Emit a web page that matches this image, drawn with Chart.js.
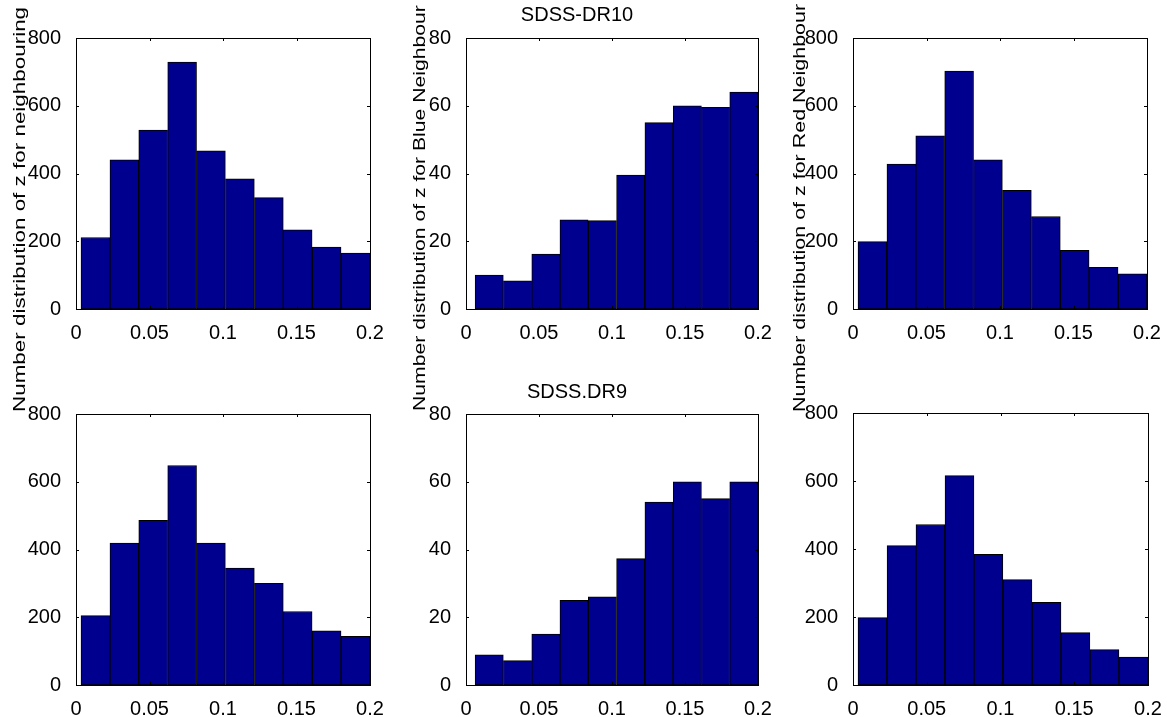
<!DOCTYPE html>
<html>
<head>
<meta charset="utf-8">
<title>Number distribution of z</title>
<script src="https://cdn.jsdelivr.net/npm/chart.js@4/dist/chart.umd.min.js"></script>
<style>
  html, body { margin: 0; padding: 0; background: #fff; }
  body { width: 1167px; height: 717px; position: relative; overflow: hidden; font-family: "Liberation Sans", Arial, sans-serif; }
  .panel { position: absolute; }
  .ylab { position: absolute; white-space: nowrap; font-size: 17px; line-height: 20px; color: #000; transform-origin: 0 0; }
</style>
</head>
<body>
<script>
// bin centres in z (matlab hist, 10 bins from min z to 0.2)
const zAll = [0.0132, 0.0329, 0.0525, 0.0722, 0.0918, 0.1115, 0.1312, 0.1508, 0.1705, 0.1902];
const zBlue = [0.0159, 0.0353, 0.0547, 0.0740, 0.0934, 0.1128, 0.1322, 0.1516, 0.1709, 0.1903];

// counts
const dr10All = [211, 440, 528, 729, 467, 384, 329, 234, 183, 165];
const dr10Blue = [10, 8.3, 16.2, 26.3, 26.1, 39.5, 55, 60, 59.5, 64];
const dr10Red = [199, 428, 511, 702, 440, 350, 273, 173, 123, 104];
const dr9All = [205, 419, 486, 648, 419, 345, 300, 217, 160, 144];
const dr9Blue = [8.9, 7.2, 15, 25, 26, 37.3, 54, 60, 55, 60];
const dr9Red = [198, 410, 472, 616, 384, 310, 243, 154, 104, 82];

// tick labels
const zTicks = [0, 0.05, 0.1, 0.15, 0.2];
const countTicks = [0, 200, 400, 600, 800];
const blueTicks = [0, 20, 40, 60, 80];

const FONT = "'Liberation Sans', Arial, sans-serif";
const BAR_COLOR = "#00008F";

// plot boxes [left, top, right, bottom] in page pixels
const panels = [
  { z: zAll, counts: dr10All, yTicks: countTicks, box: [76, 38, 370, 309] },
  { z: zBlue, counts: dr10Blue, yTicks: blueTicks, box: [466, 38, 758, 309], title: "SDSS-DR10", titleGap: 11 },
  { z: zAll, counts: dr10Red, yTicks: countTicks, box: [853, 38, 1147, 309] },
  { z: zAll, counts: dr9All, yTicks: countTicks, box: [76, 414, 370, 685] },
  { z: zBlue, counts: dr9Blue, yTicks: blueTicks, box: [466, 414, 758, 685], title: "SDSS.DR9", titleGap: 10 },
  { z: zAll, counts: dr9Red, yTicks: countTicks, box: [853, 413, 1148, 685] },
];

const yTitles = [
  { text: "Number distribution of z for neighbouring", left: 10, bottom: 412, length: 405 },
  { text: "Number distribution of z for Blue Neighbour", left: 410, bottom: 411, length: 406 },
  { text: "Number distribution of z for Red Neighbour", left: 790, bottom: 412, length: 408 },
];

const Y_AXIS_W = 70;
const X_AXIS_H = 45;
const PAD_RIGHT = 22;
const PAD_TOP = 24; // must cover half the top tick label plus its padding

// matlab style frame with small inward ticks on all four sides
const boxPlugin = {
  id: "matlabBox",
  afterDatasetsDraw(chart) {
    const { ctx, chartArea: a, scales } = chart;
    const len = 3;
    ctx.save();
    ctx.strokeStyle = "#000";
    ctx.lineWidth = 1;
    ctx.beginPath();
    scales.x.ticks.forEach((t) => {
      if (t.value <= scales.x.min || t.value >= scales.x.max) return;
      const px = Math.round(scales.x.getPixelForValue(t.value)) + 0.5;
      ctx.moveTo(px, a.bottom);
      ctx.lineTo(px, a.bottom - len);
      ctx.moveTo(px, a.top);
      ctx.lineTo(px, a.top + len);
    });
    scales.y.ticks.forEach((t) => {
      if (t.value <= scales.y.min || t.value >= scales.y.max) return;
      const py = Math.round(scales.y.getPixelForValue(t.value)) + 0.5;
      ctx.moveTo(a.left, py);
      ctx.lineTo(a.left + len, py);
      ctx.moveTo(a.right, py);
      ctx.lineTo(a.right - len, py);
    });
    ctx.stroke();
    ctx.strokeRect(a.left + 0.5, a.top + 0.5, a.right - a.left, a.bottom - a.top);
    ctx.restore();
  },
};

panels.forEach((p) => {
  const [l, t, r, b] = p.box;
  const titleH = p.title ? 24 + 2 + p.titleGap : 0;
  const topSpace = p.title ? titleH : PAD_TOP;

  const div = document.createElement("div");
  div.className = "panel";
  const w = (r - l) + Y_AXIS_W + PAD_RIGHT;
  const h = (b - t) + topSpace + X_AXIS_H;
  div.style.left = (l - Y_AXIS_W) + "px";
  div.style.top = (t - topSpace) + "px";
  div.style.width = w + "px";
  div.style.height = h + "px";
  const canvas = document.createElement("canvas");
  canvas.width = w;
  canvas.height = h;
  div.appendChild(canvas);
  document.body.appendChild(div);

  new Chart(canvas.getContext("2d"), {
    type: "bar",
    data: {
      datasets: [{
        data: p.z.map((x, i) => ({ x: x, y: p.counts[i] })),
        backgroundColor: BAR_COLOR,
        borderColor: "#000",
        borderWidth: 1,
        borderSkipped: false,
        barPercentage: 1,
        categoryPercentage: 1,
      }],
    },
    options: {
      responsive: false,
      animation: false,
      layout: { padding: { top: p.title ? 0 : PAD_TOP, right: PAD_RIGHT, bottom: 0, left: 0 } },
      plugins: {
        legend: { display: false },
        tooltip: { enabled: false },
        title: {
          display: !!p.title,
          text: p.title || "",
          color: "#000",
          font: { family: FONT, size: 20, weight: "normal", lineHeight: 1.2 },
          padding: { top: 2, bottom: p.titleGap || 0 },
        },
      },
      scales: {
        x: {
          type: "linear",
          min: 0,
          max: 0.2,
          offset: false,
          grid: { display: false, offset: false },
          border: { display: false },
          afterBuildTicks: (scale) => { scale.ticks = zTicks.map((v) => ({ value: v })); },
          afterFit: (scale) => { scale.height = X_AXIS_H; },
          ticks: {
            autoSkip: false,
            maxRotation: 0,
            padding: 4,
            color: "#000",
            font: { family: FONT, size: 20 },
            callback: (v) => String(+Number(v).toFixed(2)),
          },
        },
        y: {
          type: "linear",
          min: 0,
          max: p.yTicks[p.yTicks.length - 1],
          grid: { display: false },
          border: { display: false },
          afterBuildTicks: (scale) => { scale.ticks = p.yTicks.map((v) => ({ value: v })); },
          afterFit: (scale) => { scale.width = Y_AXIS_W; },
          ticks: {
            padding: 7,
            color: "#000",
            font: { family: FONT, size: 20 },
          },
        },
      },
    },
    plugins: [boxPlugin],
  });
});

// long rotated y labels that run past their own panels, as in the figure
yTitles.forEach((yt) => {
  const el = document.createElement("div");
  el.className = "ylab";
  el.textContent = yt.text;
  el.style.left = yt.left + "px";
  el.style.top = yt.bottom + "px";
  document.body.appendChild(el);
  const k = yt.length / el.offsetWidth;
  el.style.transform = "rotate(-90deg) scaleX(" + k.toFixed(3) + ")";
});
</script>
</body>
</html>
